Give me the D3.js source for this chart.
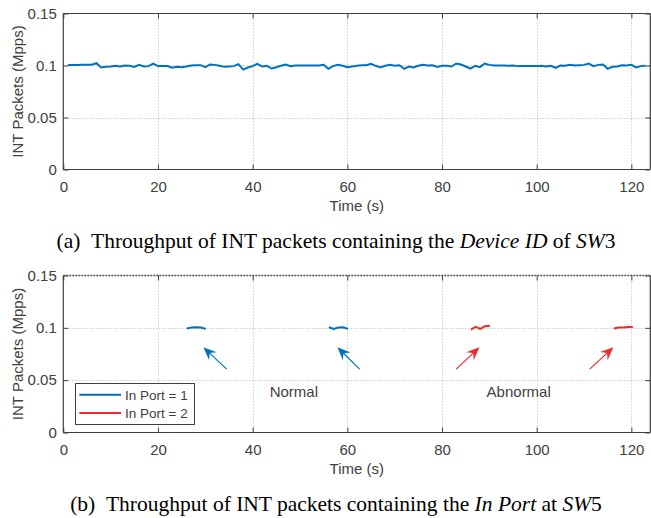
<!DOCTYPE html>
<html>
<head>
<meta charset="utf-8">
<script src="https://cdn.jsdelivr.net/npm/d3@7"></script>
<style>
body { margin: 0; background: #fff; }
svg text { font-family: "Liberation Sans", Arial, sans-serif; fill: #404040; }
svg text.caption { font-family: "Liberation Serif", "Times New Roman", serif; fill: #000; }
</style>
</head>
<body>
<svg id="fig" width="651" height="518"></svg>
<script>
// ---- data ----
var xTicks = [0, 20, 40, 60, 80, 100, 120];
var yTicks = [0, 0.05, 0.1, 0.15];
var yTickLabels = ["0", "0.05", "0.1", "0.15"];

// panel (a): Device ID of SW3, one sample per second
var timeA = [1,2,3,4,5,6,7,8,9,10,11,12,13,14,15,16,17,18,19,20,21,22,23,24,25,26,27,28,29,30,
  31,32,33,34,35,36,37,38,39,40,41,42,43,44,45,46,47,48,49,50,51,52,53,54,55,56,57,58,59,60,
  61,62,63,64,65,66,67,68,69,70,71,72,73,74,75,76,77,78,79,80,81,82,83,84,85,86,87,88,89,90,
  91,92,93,94,95,96,97,98,99,100,101,102,103,104,105,106,107,108,109,110,111,112,113,114,115,
  116,117,118,119,120,121,122,123];
var pktA = [0.1006,0.1006,0.1006,0.1007,0.1007,0.1007,0.1022,0.0981,0.0987,0.0990,
  0.0997,0.0990,0.1000,0.0997,0.0987,0.1006,0.0990,0.0994,0.1019,0.0994,
  0.0994,0.0994,0.0978,0.0987,0.0984,0.0990,0.1000,0.1003,0.1003,0.0984,
  0.1010,0.1006,0.0997,0.0987,0.0990,0.0994,0.1013,0.0961,0.0981,0.0994,
  0.1016,0.0990,0.0997,0.0971,0.0984,0.0997,0.1010,0.0994,0.1000,0.1000,
  0.1000,0.1000,0.1000,0.1000,0.1006,0.0968,0.0994,0.1006,0.0997,0.0984,
  0.0990,0.0997,0.1003,0.1003,0.1016,0.0997,0.0981,0.0997,0.1006,0.0997,
  0.1003,0.0968,0.0990,0.0981,0.0997,0.1006,0.1000,0.1003,0.0987,0.0997,
  0.0997,0.0990,0.1019,0.1010,0.0990,0.0971,0.0997,0.0984,0.1019,0.1006,
  0.1000,0.1000,0.1000,0.0997,0.1000,0.0994,0.0994,0.0994,0.0994,0.0994,
  0.0997,0.0990,0.0997,0.0978,0.1000,0.0997,0.1006,0.1000,0.1003,0.1006,
  0.1019,0.0994,0.1006,0.1010,0.0968,0.0987,0.0990,0.1003,0.1000,0.1006,
  0.0981,0.0994,0.0997];

// panel (b): In Port at SW5, short bursts
var timePort1a = [26.1, 27.1, 28.1, 29.1, 30.1];
var pktPort1a = [0.0993, 0.1003, 0.1006, 0.1003, 0.0990];
var timePort1b = [56.1, 57.1, 58.1, 59.1, 60.1];
var pktPort1b = [0.1006, 0.0990, 0.1003, 0.1006, 0.0990];
var timePort2a = [86.1, 87.1, 88.1, 89.1, 90.1];
var pktPort2a = [0.0984, 0.1010, 0.0990, 0.1016, 0.1019];
var timePort2b = [116.3, 117.3, 118.3, 119.3, 120.3];
var pktPort2b = [0.0993, 0.1003, 0.1003, 0.1008, 0.1008];

var legendLabels = ["In Port = 1", "In Port = 2"];
var blue = "#0072bd";
var red = "#ee2a2e";

// annotation arrows (tail -> tip, data coords)
var arrowsB = [
  {from: [34.5, 0.0606], to: [29.6, 0.0814], color: blue},
  {from: [62.6, 0.0606], to: [57.9, 0.0814], color: blue},
  {from: [83.0, 0.0606], to: [87.9, 0.0814], color: red},
  {from: [111.2, 0.0606], to: [116.2, 0.0814], color: red}
];

// ---- layout ----
var svg = d3.select("#fig");
var left = 63.3, right = 650.3;
var x = d3.scaleLinear().domain([0, 124]).range([left, right]);

function zip(a, b) { return a.map(function (d, i) { return [d, b[i]]; }); }

function panel(top, bottom, dottedTop) {
  var y = d3.scaleLinear().domain([0, 0.15]).range([bottom, top]);
  var g = svg.append("g");

  // grid
  g.append("g").selectAll("line").data(xTicks.slice(1)).enter().append("line")
    .attr("x1", function (d) { return Math.round(x(d)) + 0.5; })
    .attr("x2", function (d) { return Math.round(x(d)) + 0.5; })
    .attr("y1", top).attr("y2", bottom)
    .attr("stroke", "#b4b4b4").attr("stroke-dasharray", "1,2");
  g.append("g").selectAll("line").data([0.05, 0.1]).enter().append("line")
    .attr("y1", function (d) { return Math.round(y(d)) + 0.5; })
    .attr("y2", function (d) { return Math.round(y(d)) + 0.5; })
    .attr("x1", left).attr("x2", right)
    .attr("stroke", "#b4b4b4").attr("stroke-dasharray", "1,2");

  // axes (inward ticks)
  g.append("g").attr("transform", "translate(0," + bottom + ")")
    .call(d3.axisBottom(x).tickValues(xTicks).tickSizeInner(-5).tickSizeOuter(0).tickPadding(12));
  g.append("g").attr("transform", "translate(0," + top + ")")
    .call(d3.axisTop(x).tickValues(xTicks).tickSizeInner(-5).tickSizeOuter(0).tickFormat(""));
  g.append("g").attr("transform", "translate(" + left + ",0)")
    .call(d3.axisLeft(y).tickValues(yTicks).tickSizeInner(-5).tickSizeOuter(0).tickPadding(6.5)
      .tickFormat(function (d, i) { return yTickLabels[i]; }));
  g.append("g").attr("transform", "translate(" + right + ",0)")
    .call(d3.axisRight(y).tickValues(yTicks).tickSizeInner(-5).tickSizeOuter(0).tickFormat(""));
  g.selectAll(".domain").remove();
  g.selectAll(".tick line").attr("stroke", "#404040");
  g.selectAll(".tick text").attr("font-family", "Liberation Sans, Arial, sans-serif")
    .attr("font-size", 15).attr("fill", "#404040");

  // box
  g.append("line").attr("x1", left).attr("x2", right).attr("y1", bottom).attr("y2", bottom)
    .attr("stroke", "#404040").attr("stroke-width", 1.2);
  g.append("line").attr("x1", left).attr("x2", left).attr("y1", top).attr("y2", bottom)
    .attr("stroke", "#404040").attr("stroke-width", 1.2);
  g.append("line").attr("x1", right).attr("x2", right).attr("y1", top).attr("y2", bottom)
    .attr("stroke", "#404040").attr("stroke-width", 1.2);
  g.append("line").attr("x1", left).attr("x2", right).attr("y1", top).attr("y2", top)
    .attr("stroke", dottedTop ? "#505050" : "#404040")
    .attr("stroke-width", dottedTop ? 1.6 : 1.2)
    .attr("stroke-dasharray", dottedTop ? "2,1" : null);

  // labels
  g.append("text").attr("x", (left + right) / 2).attr("y", bottom + 41)
    .attr("text-anchor", "middle").attr("font-size", 15).text("Time (s)");
  g.append("text").attr("transform", "translate(22.5," + (top + bottom) / 2 + ") rotate(-90)")
    .attr("text-anchor", "middle").attr("font-size", 15).text("INT Packets (Mpps)");

  return {g: g, y: y};
}

function caption(yPos, parts) {
  var t = svg.append("text").attr("class", "caption").attr("x", 336).attr("y", yPos)
    .attr("text-anchor", "middle").attr("font-size", 21.5);
  parts.forEach(function (p) {
    t.append("tspan").attr("font-style", p[1] ? "italic" : "normal").text(p[0]);
  });
}

// ---- panel (a) ----
var pa = panel(13.5, 169.5, false);
var lineA = d3.line().x(function (d) { return x(d[0]); }).y(function (d) { return pa.y(d[1]); });
pa.g.append("path").datum(zip(timeA, pktA)).attr("d", lineA)
  .attr("fill", "none").attr("stroke", blue).attr("stroke-width", 2);
caption(248, [["(a)\u2002Throughput of INT packets containing the ", false], ["Device ID", true],
  [" of ", false], ["SW", true], ["3", false]]);

// ---- panel (b) ----
var pb = panel(275.5, 432.5, true);
var lineB = d3.line().x(function (d) { return x(d[0]); }).y(function (d) { return pb.y(d[1]); });
[[timePort1a, pktPort1a, blue], [timePort1b, pktPort1b, blue],
 [timePort2a, pktPort2a, red], [timePort2b, pktPort2b, red]].forEach(function (s) {
  pb.g.append("path").datum(zip(s[0], s[1])).attr("d", lineB)
    .attr("fill", "none").attr("stroke", s[2]).attr("stroke-width", 2);
});

// arrows
arrowsB.forEach(function (a) {
  var x0 = x(a.from[0]), y0 = pb.y(a.from[1]), x1 = x(a.to[0]), y1 = pb.y(a.to[1]);
  var len = Math.hypot(x1 - x0, y1 - y0), ux = (x1 - x0) / len, uy = (y1 - y0) / len;
  var nx = -uy, ny = ux, L = 13, W = 5.5;
  pb.g.append("line").attr("x1", x0).attr("y1", y0)
    .attr("x2", x1 - ux * L * 0.6).attr("y2", y1 - uy * L * 0.6)
    .attr("stroke", a.color).attr("stroke-width", 1.2);
  var pts = [[x1, y1], [x1 - ux * L + nx * W, y1 - uy * L + ny * W],
    [x1 - ux * L * 0.65, y1 - uy * L * 0.65], [x1 - ux * L - nx * W, y1 - uy * L - ny * W]];
  pb.g.append("path").attr("d", "M" + pts.join("L") + "Z").attr("fill", a.color);
});

pb.g.append("text").attr("x", x(48.7)).attr("y", pb.y(0.0338)).attr("text-anchor", "middle")
  .attr("font-size", 15).text("Normal");
pb.g.append("text").attr("x", x(96.2)).attr("y", pb.y(0.0338)).attr("text-anchor", "middle")
  .attr("font-size", 15).text("Abnormal");

// legend
var lg = pb.g.append("g");
lg.append("rect").attr("x", 75.5).attr("y", 383.5).attr("width", 119).attr("height", 41)
  .attr("fill", "#fff").attr("stroke", "#404040").attr("stroke-width", 1);
legendLabels.forEach(function (lab, i) {
  var yy = 394.7 + i * 18.3;
  lg.append("line").attr("x1", 79.3).attr("x2", 121).attr("y1", yy).attr("y2", yy)
    .attr("stroke", i === 0 ? blue : red).attr("stroke-width", 2);
  lg.append("text").attr("x", 125).attr("y", yy + 5).attr("font-size", 13.5).attr("fill", "#262626").text(lab);
});

caption(511, [["(b)\u2002Throughput of INT packets containing the ", false], ["In Port", true],
  [" at ", false], ["SW", true], ["5", false]]);
</script>
</body>
</html>
